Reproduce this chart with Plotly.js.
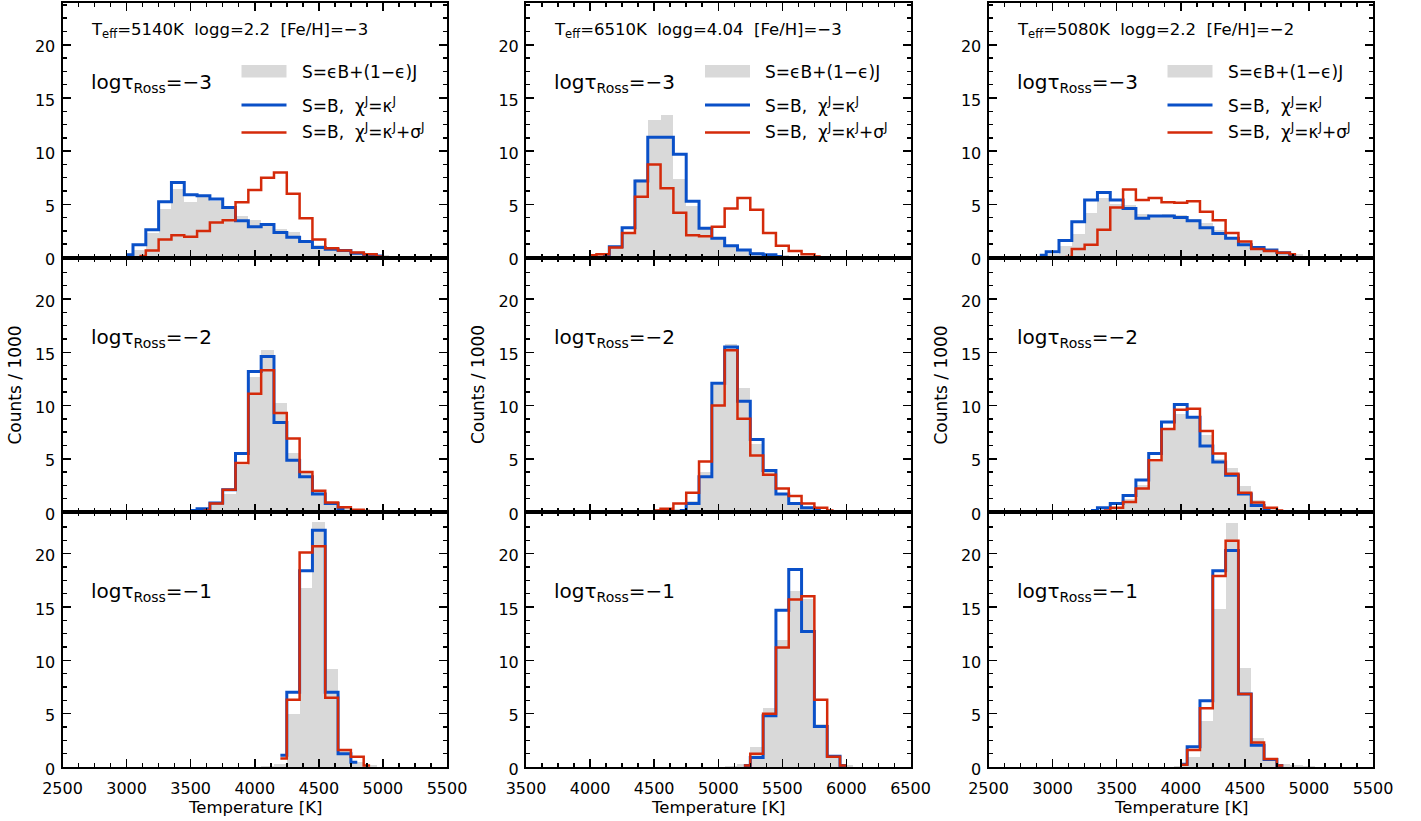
<!DOCTYPE html>
<html><head><meta charset="utf-8">
<script src="https://cdn.plot.ly/plotly-3.0.1.min.js"></script>
<style>body{margin:0;padding:0;background:#fff}#chart{width:1421px;height:821px}</style>
</head><body><div id="chart"></div>
<script>
// ---------------- DATA (counts / 1000 per 100 K bin, bin centres in K) ----------------
// Column 1: Teff=5140K logg=2.2 [Fe/H]=-3
const tempA = [3000,3100,3200,3300,3400,3500,3600,3700,3800,3900,4000,4100,4200,4300,4400,4500,4600,4700,4800,4900,5000];
const grayA = [0.1,0.7,2.3,4.6,6.4,5.2,5.7,5.3,4.6,3.9,3.5,3.2,2.7,2.4,1.6,1.2,0.95,0.75,0.55,0.4,0.2];
const blueA = [0.25,1.2,2.6,5.25,7.05,5.9,5.8,5.5,4.7,3.45,2.9,3.1,2.35,1.9,1.5,0.95,0.78,0.65,0.4,0.25,0.15];
const redA  = [null,0.15,0.65,1.7,2.1,1.95,2.5,3.3,3.5,5.2,6.35,7.5,8.0,6.0,3.7,1.7,0.87,0.66,0.47,0.3,0.1];

const tempB = [3500,3600,3700,3800,3900,4000,4100,4200,4300,4400,4500,4600,4700,4800,4900];
const grayB = [0.05,0.3,0.8,1.7,4.4,12.7,15.2,10.25,5.5,3.75,2.0,0.95,0.45,0.2,0.05];
const blueB = [0.15,0.3,0.85,2.1,5.5,13.2,14.6,8.4,4.85,3.3,1.7,0.8,0.3,null,null];
const redB  = [null,0.15,0.8,2.1,4.6,11.1,13.3,9.3,6.9,3.75,2.0,0.9,0.45,0.2,0.1];

const tempC = [4100,4200,4300,4400,4500,4600,4700,4800,4900];
const grayC = [0.1,0.3,5.0,16.8,23.0,9.2,1.5,0.5,0.15];
const blueC = [null,1.1,7.0,18.4,22.2,7.0,1.25,0.45,null];
const redC  = [null,0.8,6.3,20.1,20.7,6.5,1.6,0.95,0.15];

// Column 2: Teff=6510K logg=4.04 [Fe/H]=-3
const tempD = [4000,4100,4200,4300,4400,4500,4600,4700,4800,4900,5000,5100,5200,5300,5400,5500,5600,5700,5800];
const grayD = [0.05,0.4,0.9,2.4,7.4,12.9,13.4,7.4,4.8,2.8,1.9,1.2,0.8,0.5,0.3,0.2,0.1,0.05,null];
const blueD = [null,0.15,1.0,2.8,7.2,11.3,11.3,9.7,5.3,2.75,1.8,1.1,0.7,0.35,0.25,0.1,null,null,null];
const redD  = [0.2,0.3,0.95,2.3,5.7,8.75,6.5,4.2,2.1,2.0,2.9,4.6,5.6,4.5,2.3,1.1,0.6,0.3,0.1];

const tempE = [4500,4600,4700,4800,4900,5000,5100,5200,5300,5400,5500,5600,5700,5800,5900];
const grayE = [null,0.1,0.3,1.0,3.8,11.9,15.8,11.6,6.4,3.8,1.6,0.9,0.45,0.2,0.05];
const blueE = [null,null,0.15,0.8,3.3,12.1,15.5,10.4,6.8,3.9,1.7,0.8,0.4,0.15,null];
const redE  = [0.15,0.3,0.8,1.8,4.75,10.0,15.2,8.75,5.3,3.5,2.2,1.5,0.8,0.4,0.15];

const tempF = [5100,5200,5300,5400,5500,5600,5700,5800,5900,6000];
const grayF = [0.1,0.3,1.9,5.5,11.9,16.5,15.7,4.0,0.8,0.2];
const blueF = [null,0.15,0.9,4.8,14.7,18.5,12.7,3.8,1.0,0.15];
const redF  = [null,0.15,1.25,5.0,11.2,15.7,16.0,6.3,0.95,0.15];

// Column 3: Teff=5080K logg=2.2 [Fe/H]=-2
const tempG = [2900,3000,3100,3200,3300,3400,3500,3600,3700,3800,3900,4000,4100,4200,4300,4400,4500,4600,4700,4800,4900,5000];
const grayG = [0.1,0.3,1.05,2.2,4.2,5.6,5.05,4.9,4.1,4.0,4.1,4.0,3.6,3.25,2.55,1.8,1.45,1.0,0.75,0.5,0.3,0.15];
const blueG = [0.2,0.55,1.6,3.35,5.4,6.1,5.4,4.6,3.7,3.9,3.9,3.75,3.45,2.8,2.25,1.8,1.2,0.95,0.7,0.45,0.2,null];
const redG  = [null,null,0.05,0.8,1.2,2.6,4.7,6.4,5.4,5.6,5.2,5.15,5.3,4.3,3.5,2.3,1.5,0.8,0.6,0.45,0.3,null];

const tempH = [3300,3400,3500,3600,3700,3800,3900,4000,4100,4200,4300,4400,4500,4600,4700,4800];
const grayH = [0.05,0.2,0.5,1.2,2.5,4.7,7.7,9.2,8.9,7.2,5.0,4.1,2.4,1.1,0.5,0.2];
const blueH = [0.15,0.4,0.8,1.55,3.0,5.5,8.45,10.1,8.9,6.2,4.7,3.45,1.7,0.6,0.15,null];
const redH  = [null,0.15,0.4,0.95,2.2,4.85,7.8,9.6,9.7,7.6,5.5,3.6,1.8,0.9,0.4,0.15];

const tempI = [4000,4100,4200,4300,4400,4500,4600,4700,4800,4900,5000];
const grayI = [0.1,0.9,4.3,14.8,22.9,9.3,2.7,0.8,0.3,0.2,0.1];
const blueI = [0.25,1.9,6.2,18.4,20.3,6.85,2.05,0.7,0.15,null,null];
const redI  = [0.2,1.6,5.5,17.9,21.2,6.85,2.3,0.75,0.15,null,null];

// Labels
const SP = '\u00a0\u00a0';
const columnTitles = [
  'T<sub>eff</sub>=5140K' + SP + 'logg=2.2' + SP + '[Fe/H]=\u22123',
  'T<sub>eff</sub>=6510K' + SP + 'logg=4.04' + SP + '[Fe/H]=\u22123',
  'T<sub>eff</sub>=5080K' + SP + 'logg=2.2' + SP + '[Fe/H]=\u22122'
];
const rowLabels = ['log\u03c4<sub>Ross</sub>=\u22123','log\u03c4<sub>Ross</sub>=\u22122','log\u03c4<sub>Ross</sub>=\u22121'];
const legendLabels = [
  'S=\u03f5B+(1\u2212\u03f5)J',
  'S=B,' + SP + '\u03c7<sup>J</sup>=\u03ba<sup>J</sup>',
  'S=B,' + SP + '\u03c7<sup>J</sup>=\u03ba<sup>J</sup>+\u03c3<sup>J</sup>'
];
const xRanges = [[2500,5500],[3500,6500],[2500,5500]];
const yRange = [0, 23.9];
const xLabel = 'Temperature\u00a0[K]';
const yLabel = 'Counts\u00a0/\u00a01000';

// ---------------- LAYOUT GEOMETRY ----------------
const W = 1421, H = 821;
const colPx = [[62.5,447],[526,910.5],[988.5,1373]];
const rowPx = [[3.3,257.5],[257.5,512],[512,767]];
const GRAY = '#d9d9d9', BLUE = '#0a50c8', RED = '#d42a0a';
const FONT = 'DejaVu Sans, sans-serif';
const px = x => x / W;
const py = y => 1 - y / H;

const panels = [
  {col:0,row:0,T:tempA,g:grayA,b:blueA,r:redA},
  {col:0,row:1,T:tempB,g:grayB,b:blueB,r:redB},
  {col:0,row:2,T:tempC,g:grayC,b:blueC,r:redC},
  {col:1,row:0,T:tempD,g:grayD,b:blueD,r:redD},
  {col:1,row:1,T:tempE,g:grayE,b:blueE,r:redE},
  {col:1,row:2,T:tempF,g:grayF,b:blueF,r:redF},
  {col:2,row:0,T:tempG,g:grayG,b:blueG,r:redG},
  {col:2,row:1,T:tempH,g:grayH,b:blueH,r:redH},
  {col:2,row:2,T:tempI,g:grayI,b:blueI,r:redI}
];

const traces = [];
const layout = {
  width: W, height: H,
  margin: {l:0, r:0, t:0, b:0},
  paper_bgcolor: '#fff', plot_bgcolor: 'rgba(0,0,0,0)',
  showlegend: false, bargap: 0,
  font: {family: FONT, color: '#000', size: 16},
  annotations: [], shapes: []
};

panels.forEach((p, i) => {
  const n = i + 1, sfx = n === 1 ? '' : String(n);
  const xa = 'x' + sfx, ya = 'y' + sfx;
  traces.push({type:'bar', x:p.T, y:p.g, width:100, xaxis:xa, yaxis:ya,
    marker:{color:GRAY, line:{width:0}}, hoverinfo:'skip'});
  traces.push({type:'scatter', mode:'lines', x:p.T, y:p.b, xaxis:xa, yaxis:ya,
    line:{shape:'hvh', color:BLUE, width:3}, connectgaps:false, hoverinfo:'skip'});
  traces.push({type:'scatter', mode:'lines', x:p.T, y:p.r, xaxis:xa, yaxis:ya,
    line:{shape:'hvh', color:RED, width:2.5}, connectgaps:false, hoverinfo:'skip'});

  const cx = colPx[p.col], ry = rowPx[p.row], xr = xRanges[p.col];
  const common = {showline:true, mirror:'ticks', linecolor:'#000', linewidth:2,
    ticks:'inside', ticklen:8, tickwidth:1.5, tickcolor:'#000',
    showgrid:false, zeroline:false, fixedrange:true,
    tickfont:{family:FONT, size:16, color:'#000'}};
  layout['xaxis' + sfx] = Object.assign({}, common, {
    domain:[px(cx[0]), px(cx[1])], range:xr, anchor:ya,
    tick0:xr[0], dtick:500, showticklabels: p.row === 2, ticklabelstandoff: 6,
    minor:{ticks:'inside', ticklen:4, tickwidth:1.5, tickcolor:'#000', tick0:xr[0], dtick:125}
  });
  layout['yaxis' + sfx] = Object.assign({}, common, {
    domain:[py(ry[1]), py(ry[0])], range:yRange, anchor:xa,
    tick0:0, dtick:5, showticklabels:true, ticklabelstandoff: 2, ticklabelshift: 2,
    minor:{ticks:'inside', ticklen:4, tickwidth:1.5, tickcolor:'#000', tick0:0, dtick:1.25}
  });

  // row label
  layout.annotations.push({xref:'paper', yref:'paper', x:px(cx[0]+26), y:py(ry[0]+80),
    xanchor:'left', yanchor:'middle', showarrow:false, text:rowLabels[p.row],
    font:{family:FONT, size:20, color:'#000'}});
});

for (let c = 0; c < 3; c++) {
  const x0 = colPx[c][0];
  // column title
  layout.annotations.push({xref:'paper', yref:'paper', x:px(x0+26), y:py(30),
    xanchor:'left', yanchor:'middle', showarrow:false, text:columnTitles[c],
    font:{family:FONT, size:16.5, color:'#000'}});
  // legend symbols
  layout.shapes.push({type:'rect', xref:'paper', yref:'paper',
    x0:px(x0+179), x1:px(x0+224), y0:py(77.5), y1:py(65), fillcolor:GRAY, line:{width:0}});
  layout.shapes.push({type:'line', xref:'paper', yref:'paper',
    x0:px(x0+179), x1:px(x0+224), y0:py(105), y1:py(105), line:{color:BLUE, width:3}});
  layout.shapes.push({type:'line', xref:'paper', yref:'paper',
    x0:px(x0+179), x1:px(x0+224), y0:py(132.5), y1:py(132.5), line:{color:RED, width:2.5}});
  [72, 105, 131].forEach((yy, k) => {
    layout.annotations.push({xref:'paper', yref:'paper', x:px(x0+237), y:py(yy),
      xanchor:'left', yanchor:'middle', showarrow:false, text:legendLabels[k],
      font:{family:FONT, size:17, color:'#000'}});
  });
  // axis titles
  layout.annotations.push({xref:'paper', yref:'paper', x:px((colPx[c][0]+colPx[c][1])/2), y:py(807),
    xanchor:'center', yanchor:'middle', showarrow:false, text:xLabel,
    font:{family:FONT, size:16.5, color:'#000'}});
  layout.annotations.push({xref:'paper', yref:'paper', x:px(x0-48), y:py(385),
    xanchor:'center', yanchor:'middle', showarrow:false, text:yLabel, textangle:-90,
    font:{family:FONT, size:17, color:'#000'}});
}

Plotly.newPlot('chart', traces, layout, {staticPlot:true, displayModeBar:false});
</script>
</body></html>
